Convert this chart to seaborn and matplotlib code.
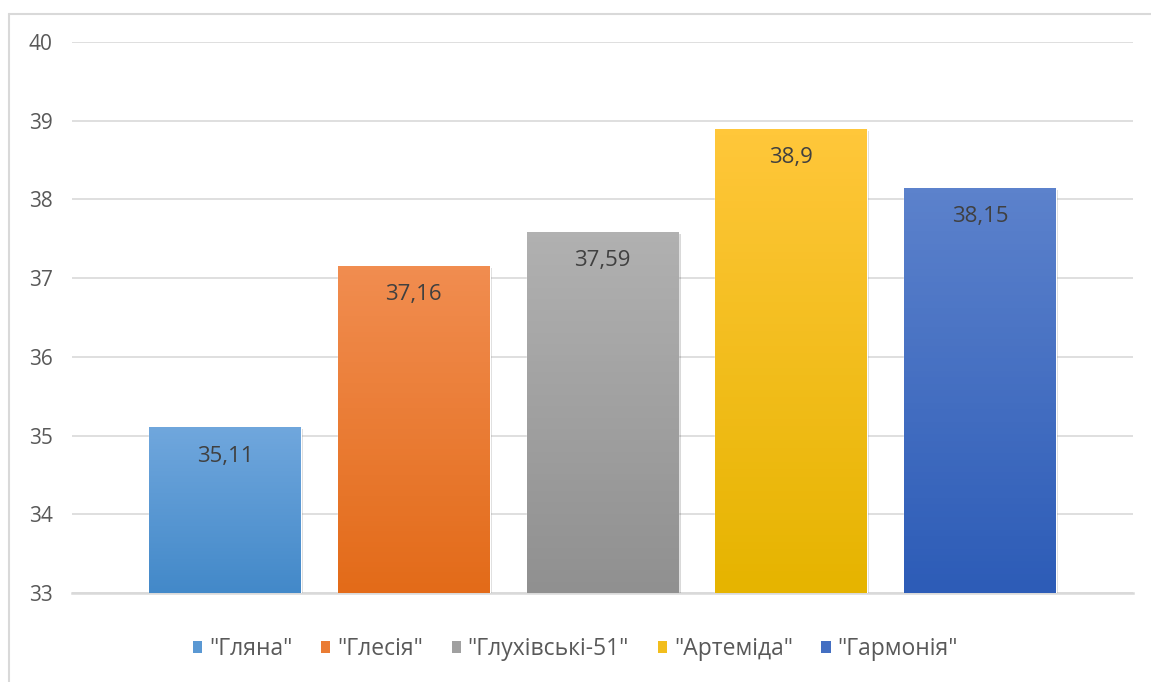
import matplotlib
matplotlib.use("Agg")
import matplotlib.pyplot as plt
import matplotlib.colors as mcolors
from matplotlib.lines import Line2D
from matplotlib.patches import Patch
import matplotlib.patheffects as pe
import numpy as np
import pandas as pd
import seaborn as sns

# ---- data ----
varieties = ['"Гляна"', '"Глесія"', '"Глухівські-51"', '"Артеміда"', '"Гармонія"']
values = [35.11, 37.16, 37.59, 38.9, 38.15]
value_labels = ["35,11", "37,16", "37,59", "38,9", "38,15"]
y_ticks = [33, 34, 35, 36, 37, 38, 39, 40]
top_colors = ["#70a7dd", "#f18d50", "#b1b1b1", "#ffc73a", "#5c82cc"]
bottom_colors = ["#4389c9", "#e36b19", "#909090", "#e6b400", "#2d5cb7"]

sns.set_theme(style="white")
plt.rcParams['font.family'] = ['Open Sans', 'DejaVu Sans']

fig = plt.figure(figsize=(11.51, 6.82), dpi=100)
ax = fig.add_axes([72 / 1151, 1 - 593 / 682, (1133 - 72) / 1151, (593 - 42) / 682])

df = pd.DataFrame({"variety": varieties, "value": values})
mid_colors = [mcolors.to_hex((np.array(mcolors.to_rgb(t)) + np.array(mcolors.to_rgb(b))) / 2)
              for t, b in zip(top_colors, bottom_colors)]
sns.barplot(data=df, x="variety", y="value", hue="variety", palette=mid_colors,
            dodge=False, width=0.805, legend=False, ax=ax, zorder=3)

ax.set_ylim(33, 40)
ax.set_xlim(-0.81, 4.81)

# gradient fill + labels
for i, patch in enumerate(ax.patches):
    x0, w = patch.get_x(), patch.get_width()
    h = values[i]
    t = np.array(mcolors.to_rgb(top_colors[i]))
    b = np.array(mcolors.to_rgb(bottom_colors[i]))
    grad = np.linspace(0, 1, 64)[:, None]
    img = (t[None, :] * (1 - grad) + b[None, :] * grad)[:, None, :]
    patch.set_path_effects([pe.SimplePatchShadow(offset=(1.5, -1.5), shadow_rgbFace="black", alpha=0.15),
                            pe.Normal()])
    im = ax.imshow(img, extent=[x0, x0 + w, 33, h], aspect="auto", origin="upper", zorder=3.5)
    im.set_clip_path(patch)
    ax.annotate(value_labels[i], xy=(x0 + w / 2, h), xytext=(0, -21), textcoords="offset points",
                ha="center", va="center", fontsize=16, color="#404040", zorder=5)

ax.set_ylim(33, 40)
ax.set_xlim(-0.81, 4.81)

ax.set_yticks(y_ticks)
ax.set_yticklabels([str(v) for v in y_ticks])
ax.tick_params(axis="y", length=0, pad=14, labelsize=15, labelcolor="#595959")
ax.set_xticks([])
ax.set_xlabel("")
ax.set_ylabel("")
ax.yaxis.grid(True, color="#d9d9d9", linewidth=1.2, zorder=0)
ax.set_axisbelow(True)
for s in ["left", "right", "top"]:
    ax.spines[s].set_visible(False)
ax.spines["bottom"].set_color("#d9d9d9")
ax.spines["bottom"].set_linewidth(1.8)

# legend
handles = [Patch(facecolor=mid_colors[i], edgecolor="none") for i in range(len(varieties))]
fig.legend(handles, varieties, loc="center", bbox_to_anchor=(0.5, 1 - 649 / 682), ncol=5,
           frameon=False, fontsize=16.5, labelcolor="#595959", handlelength=0.4, handleheight=0.4,
           handletextpad=0.3, columnspacing=1.25)

# chart border
fig.add_artist(Line2D([8.5 / 1151, 8.5 / 1151], [0, 1 - 14 / 682], transform=fig.transFigure,
                      color="#d9d9d9", linewidth=1.5))
fig.add_artist(Line2D([8.5 / 1151, 1], [1 - 14 / 682, 1 - 14 / 682], transform=fig.transFigure,
                      color="#d9d9d9", linewidth=1.5))

fig.savefig("out.png", dpi=100, facecolor="white")
